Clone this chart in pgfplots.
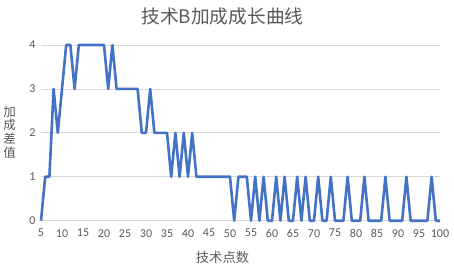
\documentclass[border=0pt]{standalone}
\usepackage{pgfplots}
\pgfplotsset{compat=1.18}
\usepackage{pgfplotstable}
\usepackage{fontspec}
\setmainfont{Carlito}
\newfontfamily\cjk{Noto Sans CJK SC}
\definecolor{exblue}{HTML}{4472C4}
\definecolor{txtgray}{HTML}{595959}
\definecolor{grid}{HTML}{D9D9D9}
\pgfplotstableread{
x y
5 0
6 1
7 1
8 3
9 2
10 3
11 4
12 4
13 3
14 4
15 4
16 4
17 4
18 4
19 4
20 4
21 3
22 4
23 3
24 3
25 3
26 3
27 3
28 3
29 2
30 2
31 3
32 2
33 2
34 2
35 2
36 1
37 2
38 1
39 2
40 1
41 2
42 1
43 1
44 1
45 1
46 1
47 1
48 1
49 1
50 1
51 0
52 1
53 1
54 1
55 0
56 1
57 0
58 1
59 0
60 0
61 1
62 0
63 1
64 0
65 0
66 1
67 0
68 1
69 0
70 0
71 1
72 0
73 0
74 1
75 0
76 0
77 0
78 1
79 0
80 0
81 0
82 1
83 0
84 0
85 0
86 0
87 1
88 0
89 0
90 0
91 0
92 1
93 0
94 0
95 0
96 0
97 0
98 1
99 0
100 0
}\datatable
\begin{document}
\begin{tikzpicture}
\path[use as bounding box] (0,0) rectangle (454pt,266pt);
\begin{axis}[
  at={(41pt,45.3pt)}, anchor=south west,
  scale only axis, width=399pt, height=175.7pt,
  xmin=5, xmax=100, ymin=0, ymax=4,
  xtick={5,10,...,100}, ytick={0,1,2,3,4},
  axis line style={draw=none},
  major tick length=0pt,
  ymajorgrids, grid style={draw=grid, line width=0.75pt},
  /pgf/number format/assume math mode=true,
  tick label style={font=\fontsize{12}{14}\selectfont, text=txtgray},
  xticklabel style={yshift=-5pt},
  yticklabel style={xshift=-2pt},
  clip=false,
]
\addplot[exblue, line width=2.6pt, line join=round, no marks] table[x=x,y=y] {\datatable};
\end{axis}
\node[text=txtgray, font=\cjk\fontsize{18.7}{20}\selectfont] at (222.5pt,250pt) {技术B加成成长曲线};
\node[text=txtgray, font=\cjk\fontsize{13.3}{15}\selectfont] at (222.5pt,8.5pt) {技术点数};
\node[text=txtgray, font=\cjk\fontsize{12.5}{13.6}\selectfont, align=center] at (9.5pt,134pt) {加\\成\\差\\值};
\end{tikzpicture}
\end{document}
